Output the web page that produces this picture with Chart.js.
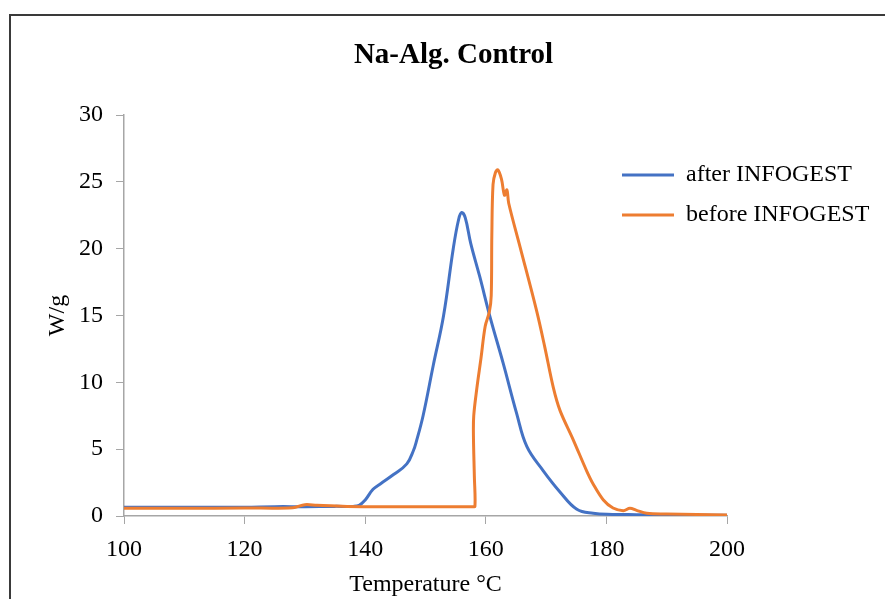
<!DOCTYPE html>
<html>
<head>
<meta charset="utf-8">
<script src="https://cdn.jsdelivr.net/npm/chart.js@4.4.1/dist/chart.umd.min.js"></script>
<style>
  html, body { margin: 0; padding: 0; background: #fff; overflow: hidden; }
  #frame { position: absolute; left: 9px; top: 14px; width: 900px; height: 700px; border: 2px solid #3a3a3a; }
  #wrap { position: absolute; left: 0; top: 0; width: 885px; height: 599px; }
</style>
</head>
<body>
<div id="frame"></div>
<div id="wrap"><canvas id="myChart" width="885" height="599"></canvas></div>
<script>
// readings (temperature in °C, heat flow in W/g)
var afterTemp = [100, 110, 120, 125, 130, 135, 138, 139, 140, 141.3, 142.5, 144.7, 146.9, 148.0, 148.5, 149.6, 151.3, 153.0, 154.6, 155.5, 156.0, 156.6, 157.5, 159.0, 160.7, 162.9, 165.1, 166.8, 169.5, 172.3, 175.1, 177.8, 181, 185, 190, 195, 200];
var afterWg   = [0.65, 0.65, 0.66, 0.7, 0.7, 0.72, 0.72, 0.8, 1.2, 2.0, 2.4, 3.1, 3.9, 4.9, 5.6, 7.5, 11.3, 15.0, 20.0, 22.2, 22.7, 22.3, 20.4, 17.9, 14.9, 11.4, 7.7, 5.2, 3.4, 1.8, 0.5, 0.2, 0.12, 0.1, 0.08, 0.06, 0.05];

var beforeTemp = [100, 110, 120, 128, 130, 132, 137, 145, 155, 157.8, 158.2, 158.1, 157.95, 158.0, 158.5, 159.2, 159.9, 160.6, 160.9, 161.0, 161.2, 161.6, 162.0, 162.6, 163.1, 163.5, 163.8, 165.7, 168.4, 169.8, 171.2, 172.3, 174.5, 176.7, 177.8, 179.5, 181.1, 182.8, 183.9, 185.0, 186.7, 190, 195, 200];
var beforeWg   = [0.58, 0.58, 0.6, 0.62, 0.85, 0.8, 0.72, 0.7, 0.7, 0.7, 0.72, 3.0, 6.0, 7.5, 9.5, 11.8, 14.2, 15.3, 16.5, 21.0, 24.8, 25.7, 25.9, 25.2, 24.0, 24.4, 23.4, 20.1, 15.4, 12.6, 9.6, 7.9, 5.7, 3.4, 2.4, 1.2, 0.6, 0.4, 0.58, 0.42, 0.2, 0.15, 0.12, 0.07];

var seriesNames = ["after INFOGEST", "before INFOGEST"];
var xTicks = [100, 200, 20];
var yTicks = [0, 30, 5];

function toPoints(xs, ys) {
    var pts = [];
    for (var i = 0; i < xs.length; i++) pts.push({x: xs[i], y: ys[i]});
    return pts;
}

Chart.defaults.font.family = "'Liberation Serif', 'Times New Roman', serif";
Chart.defaults.color = "#000";

// legend sits inside the plot area in the original
var moveLegend = {
    id: "moveLegend",
    afterLayout: function(chart) {
        var lg = chart.legend;
        lg.left = 606;
        lg.top = 147;
    }
};

new Chart("myChart", {
    type: "line",
    data: {
        datasets: [{
            label: seriesNames[0],
            data: toPoints(afterTemp, afterWg),
            borderColor: "#4472C4",
            backgroundColor: "#4472C4",
            borderWidth: 3,
            pointRadius: 0,
            tension: 0.4,
            order: 1,
            fill: false
        }, {
            label: seriesNames[1],
            data: toPoints(beforeTemp, beforeWg),
            borderColor: "#ED7D31",
            backgroundColor: "#ED7D31",
            borderWidth: 3,
            pointRadius: 0,
            tension: 0.35,
            order: 0,
            fill: false
        }]
    },
    options: {
        responsive: false,
        animation: false,
        layout: {padding: {left: 22, right: 0, top: 0, bottom: 0}},
        plugins: {
            title: {
                display: true,
                text: "Na-Alg. Control",
                font: {size: 29, weight: "bold"},
                color: "#000",
                padding: {top: 38.6, bottom: 41.6}
            },
            legend: {
                display: true,
                position: "right",
                align: "start",
                maxWidth: 158,
                labels: {
                    usePointStyle: true,
                    pointStyle: "line",
                    pointStyleWidth: 52,
                    padding: 16,
                    font: {size: 24},
                    color: "#000",
                    sort: function(a, b) { return a.datasetIndex - b.datasetIndex; }
                }
            },
            tooltip: {enabled: false}
        },
        scales: {
            x: {
                type: "linear",
                min: xTicks[0],
                max: xTicks[1],
                ticks: {stepSize: xTicks[2], padding: 11, font: {size: 24}, color: "#000"},
                grid: {drawOnChartArea: false, drawTicks: true, tickLength: 8, color: "#a6a6a6"},
                border: {color: "#a6a6a6", width: 1.5},
                title: {display: true, text: "Temperature °C", font: {size: 24}, color: "#000", padding: {top: 0, bottom: 0}},
                afterFit: function(scale) { scale.height = 83; }
            },
            y: {
                min: yTicks[0],
                max: yTicks[1],
                ticks: {stepSize: yTicks[2], padding: 13, font: {size: 24}, color: "#000"},
                grid: {drawOnChartArea: false, drawTicks: true, tickLength: 8, color: "#a6a6a6"},
                border: {color: "#a6a6a6", width: 1.5},
                title: {display: true, text: "W/g", font: {size: 24}, color: "#000", padding: {top: 21, bottom: 0}},
                afterFit: function(scale) { scale.width = 102; }
            }
        }
    },
    plugins: [moveLegend]
});
</script>
</body>
</html>
